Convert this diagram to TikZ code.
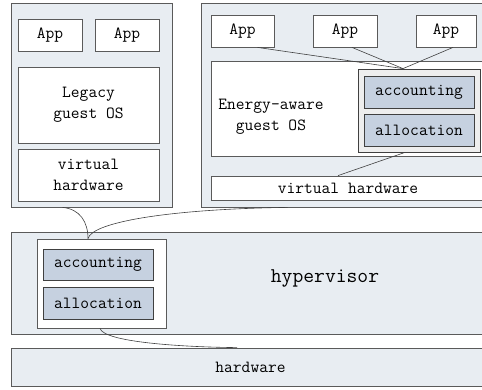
\documentclass[tikz,border=0pt]{standalone}
\usetikzlibrary{calc}
\definecolor{outerfill}{HTML}{E8EDF2}
\definecolor{modfill}{HTML}{C6D1E0}
\definecolor{grayfill}{HTML}{EEEEEE}
\definecolor{edge}{HTML}{5A5A5A}
\definecolor{wire}{HTML}{404040}
\begin{document}
\begin{tikzpicture}[x=1pt,y=-1pt,
  box/.style={draw=edge,line width=0.8pt,inner sep=0pt,align=center,
    font=\ttfamily\fontsize{17}{21}\selectfont},
  outer/.style={box,fill=outerfill},
  whitebox/.style={box,fill=white},
  modbox/.style={box,fill=modfill,draw=black!75},
  graybox/.style={box,fill=grayfill,draw=black!75},
  wirestyle/.style={draw=wire,line width=0.6pt}]
\useasboundingbox (0,0) rectangle (482,389);
\begin{scope}
\clip (0,0) rectangle (482,389);
% left VM
\node[outer,minimum width=161pt,minimum height=204pt] (vm1) at (91.5,105) {};
\node[whitebox,minimum width=64pt,minimum height=32pt] (app1) at (50,35) {App};
\node[whitebox,minimum width=64pt,minimum height=32pt] (app2) at (127,35) {App};
\node[whitebox,minimum width=141pt,minimum height=76pt] (legacy) at (88.5,105) {Legacy\\guest OS};
\node[whitebox,minimum width=141pt,minimum height=52pt] (vhw1) at (88.5,175) {virtual\\hardware};
% right VM
\node[outer,minimum width=299pt,minimum height=204pt] (vm2) at (350.5,105) {};
\node[whitebox,minimum width=63pt,minimum height=32pt] (app3) at (242.5,31) {App};
\node[whitebox,minimum width=64pt,minimum height=32pt] (app4) at (345,31) {App};
\node[whitebox,minimum width=60pt,minimum height=32pt] (app5) at (446,31) {App};
\node[whitebox,minimum width=274pt,minimum height=95pt] (eos) at (348,108.5) {};
\node[box,draw=none,fill=none] (eostext) at (271,117) {Energy-aware\\guest OS};
\node[graybox,minimum width=122pt,minimum height=83pt] (gbox) at (419,110.5) {};
\node[modbox,minimum width=110pt,minimum height=32pt] (acc2) at (419,92) {accounting};
\node[modbox,minimum width=110pt,minimum height=32pt] (alloc2) at (419,130) {allocation};
\node[whitebox,minimum width=274pt,minimum height=24pt] (vhw2) at (348,188) {virtual hardware};
% hypervisor
\node[outer,minimum width=479pt,minimum height=102pt] (hyp) at (250.5,283) {};
\node[box,draw=none,font=\ttfamily\fontsize{21}{25}\selectfont] (hyptext) at (325,278) {hypervisor};
\node[whitebox,minimum width=129pt,minimum height=89pt] (ibox) at (101.5,283.5) {};
\node[modbox,minimum width=110pt,minimum height=31pt] (acc1) at (98,264.5) {accounting};
\node[modbox,minimum width=110pt,minimum height=32pt] (alloc1) at (98,303) {allocation};
% hardware
\node[outer,minimum width=479pt,minimum height=38pt] (hw) at (250.5,367) {hardware};
% connectors
\coordinate (gtop) at ([xshift=-16pt]gbox.north);
\draw[wirestyle] ([xshift=15pt]app3.south) -- (gtop);
\draw[wirestyle] ([xshift=7pt]app4.south) -- (gtop);
\draw[wirestyle] ([xshift=7pt]app5.south) -- (gtop);
\draw[wirestyle] ([xshift=-14pt]gbox.south) -- ([xshift=-10pt]vhw2.north);
\coordinate (itop) at ([xshift=-13.5pt]ibox.north);
\draw[wirestyle] ([xshift=-29pt]vm1.south) .. controls (80,209) and (88,222) .. (itop);
\draw[wirestyle] (itop) .. controls (92,222) and (170,209) .. ([xshift=-63pt]vm2.south);
\draw[wirestyle] ([xshift=-1.5pt]ibox.south) .. controls (104,342) and (180,347) .. ([xshift=-13.5pt]hw.north);
\end{scope}
\end{tikzpicture}
\end{document}
